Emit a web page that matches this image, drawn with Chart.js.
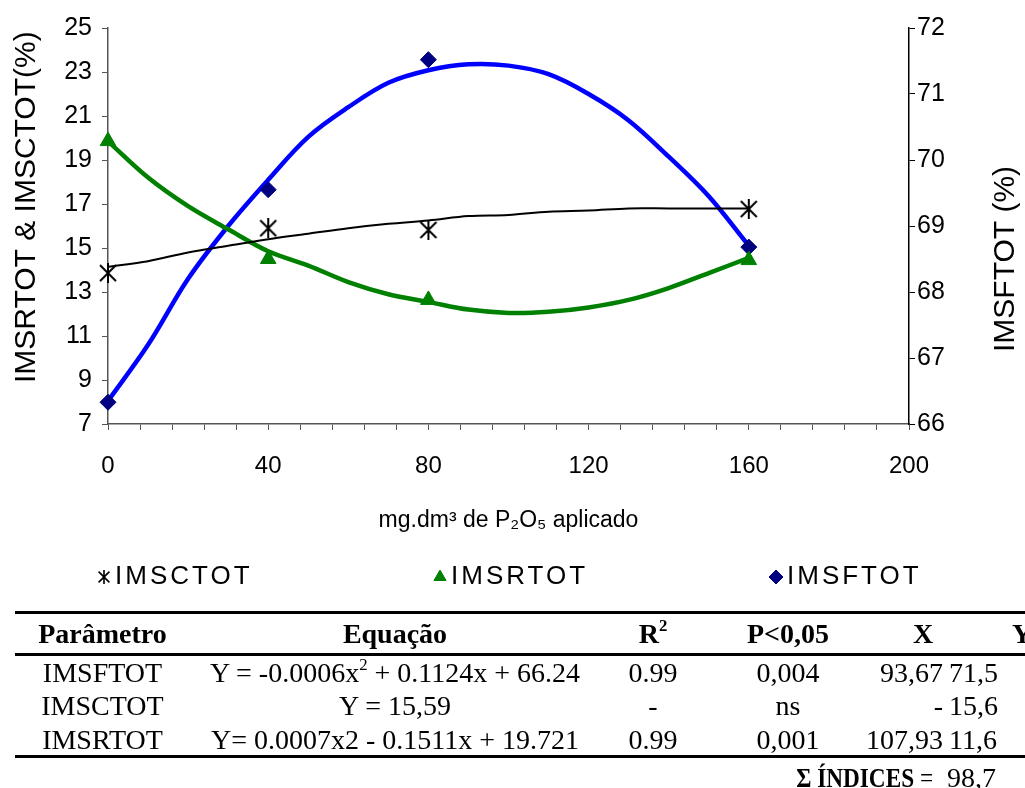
<!DOCTYPE html>
<html>
<head>
<meta charset="utf-8">
<script src="https://cdn.jsdelivr.net/npm/chart.js"></script>
<style>
  html, body { margin: 0; padding: 0; background: #fff; overflow: hidden; }
  body { width: 1025px; height: 788px; position: relative; }
  #wrap { position: absolute; left: 0; top: 0; width: 1025px; height: 600px; }
  #tab { position: absolute; left: 0; top: 0; width: 1025px; height: 788px; pointer-events: none;
         font-family: "Liberation Serif", "Times New Roman", serif; font-size: 28px; color: #000; }
  .rule { position: absolute; left: 15px; width: 1010px; height: 3px; background: #000; }
  .c { position: absolute; white-space: nowrap; line-height: 33px; height: 33px; }
  .b { font-weight: bold; }
  .narrow { transform: scaleX(0.83); transform-origin: right center; }
  sup { font-size: 60%; line-height: 0; position: relative; top: -0.1em; vertical-align: super; }
</style>
</head>
<body>
<div id="wrap"><canvas id="chart"></canvas></div>
<div id="tab"></div>
<script>
// observed points
const doses = [0, 40, 80, 160];
const imsctot = [13.86, 15.9, 15.82, 16.77];
const imsrtot = [19.86, 14.5, 12.64, 14.45];
const imsftot = [66.33, 69.55, 71.52, 68.68];

// fitted curves, every 10 units
const trendX = [0, 10, 20, 30, 40, 50, 60, 70, 80, 90, 100, 110, 120, 130, 140, 150, 160];
const trendCtot = [14.15, 14.4, 14.8, 15.1, 15.4, 15.65, 15.9, 16.1, 16.25, 16.45, 16.5, 16.65, 16.7, 16.8, 16.8, 16.8, 16.8];
const trendRtot = [19.85, 18.2, 16.9, 15.85, 14.85, 14.2, 13.45, 12.9, 12.55, 12.2, 12.05, 12.1, 12.3, 12.64, 13.18, 13.86, 14.55];
const trendFtot = [66.35, 67.2, 68.2, 69.0, 69.7, 70.35, 70.8, 71.17, 71.36, 71.45, 71.43, 71.3, 71.0, 70.6, 70.05, 69.45, 68.7];

const xLabels = [0, 40, 80, 120, 160, 200];
const leftTicks = [7, 9, 11, 13, 15, 17, 19, 21, 23, 25];
const rightTicks = [66, 67, 68, 69, 70, 71, 72];

const xTitle = "mg.dm³ de P₂O₅ aplicado";
const leftTitle = "IMSRTOT & IMSCTOT(%)";
const rightTitle = "IMSFTOT (%)";

// table
const tabHead = ["Parâmetro", "Equação", "R<sup>2</sup>", "P&lt;0,05", "X", "Y"];
const tabParam = ["IMSFTOT", "IMSCTOT", "IMSRTOT"];
const tabEq = ["Y = -0.0006x<sup>2</sup> + 0.1124x + 66.24", "Y = 15,59", "Y= 0.0007x2 - 0.1511x + 19.721"];
const tabR2 = ["0.99", "-", "0.99"];
const tabP = ["0,004", "ns", "0,001"];
const tabX = ["93,67", "-", "107,93"];
const tabY = ["71,5", "15,6", "11,6"];
const tabSum = "98,7";

const pts = (xs, ys) => xs.map((x, i) => ({ x: x, y: ys[i] }));

// excel-like star marker: an X with a vertical stroke
function starMarker(size, lw) {
  const c = document.createElement("canvas");
  c.width = size; c.height = size;
  const g = c.getContext("2d");
  const m = lw;
  g.strokeStyle = "#000";
  g.lineWidth = lw;
  g.beginPath();
  g.moveTo(m, m); g.lineTo(size - m, size - m);
  g.moveTo(size - m, m); g.lineTo(m, size - m);
  g.moveTo(size / 2, 0); g.lineTo(size / 2, size);
  g.stroke();
  return c;
}
const starBig = starMarker(20, 2);
const starSmall = starMarker(14, 1.6);

const tickFont = { family: "'Liberation Sans', Arial, sans-serif", size: 25 };

const extrasPlugin = {
  id: "extras",
  afterDraw(chart) {
    const ctx = chart.ctx;
    ctx.save();
    // y-axis titles, both reading upwards
    ctx.fillStyle = "#000";
    ctx.font = "30px 'Liberation Sans', Arial, sans-serif";
    ctx.textBaseline = "middle";
    ctx.textAlign = "left";
    [[leftTitle, 27, 383], [rightTitle, 1006, 352]].forEach(([t, x, y]) => {
      ctx.save();
      ctx.translate(x, y);
      ctx.rotate(-Math.PI / 2);
      ctx.fillText(t, 0, 0);
      ctx.restore();
    });
    // legend row
    const y = 577;
    [0, 1, 2].forEach((i, k) => {
      const ds = chart.data.datasets[i];
      const mx = 104 + k * 336;
      const style = i === 0 ? starSmall : ds.pointStyle;
      ctx.fillStyle = ds.pointBackgroundColor;
      ctx.strokeStyle = ds.pointBorderColor;
      ctx.lineWidth = 1;
      Chart.helpers.drawPoint(ctx, { pointStyle: style, radius: 7, rotation: 0, borderWidth: 1 }, mx, y);
      ctx.fillStyle = "#000";
      ctx.font = "26px 'Liberation Sans', Arial, sans-serif";
      ctx.letterSpacing = "3px";
      ctx.textBaseline = "middle";
      ctx.textAlign = "left";
      ctx.fillText(ds.label, mx + 11, y);
    });
    ctx.restore();
  }
};

new Chart(document.getElementById("chart"), {
  type: "scatter",
  data: {
    datasets: [
      { label: "IMSCTOT", data: pts(doses, imsctot), yAxisID: "y", order: 0, clip: false,
        pointStyle: starBig, pointRadius: 10,
        pointBorderColor: "#000", pointBackgroundColor: "#000", showLine: false },
      { label: "IMSRTOT", data: pts(doses, imsrtot), yAxisID: "y", order: 0, clip: false,
        pointStyle: "triangle", pointRadius: 9, pointBorderWidth: 1,
        pointBorderColor: "#008000", pointBackgroundColor: "#008000", showLine: false },
      { label: "IMSFTOT", data: pts(doses, imsftot), yAxisID: "y1", order: 0, clip: false,
        pointStyle: "rectRot", pointRadius: 8, pointBorderWidth: 1,
        pointBorderColor: "#000080", pointBackgroundColor: "#000080", showLine: false },
      { label: "trend IMSCTOT", type: "line", data: pts(trendX, trendCtot), yAxisID: "y", order: 1,
        borderColor: "#000", borderWidth: 2, pointRadius: 0, tension: 0.35, fill: false },
      { label: "trend IMSRTOT", type: "line", data: pts(trendX, trendRtot), yAxisID: "y", order: 1,
        borderColor: "#008000", borderWidth: 4.5, pointRadius: 0, tension: 0.35, fill: false },
      { label: "trend IMSFTOT", type: "line", data: pts(trendX, trendFtot), yAxisID: "y1", order: 1,
        borderColor: "#0000ff", borderWidth: 4.5, pointRadius: 0, tension: 0.35, fill: false }
    ]
  },
  options: {
    responsive: true,
    maintainAspectRatio: false,
    animation: false,
    layout: { padding: { top: 28, bottom: 66, left: 0, right: 0 } },
    plugins: { legend: { display: false }, tooltip: { enabled: false } },
    scales: {
      x: {
        type: "linear", min: 0, max: 200,
        ticks: { stepSize: 8, autoSkip: false, maxRotation: 0, padding: 22, color: "#000", font: { ...tickFont, size: 24 },
                 callback: (v) => (xLabels.includes(v) ? String(v) : "") },
        grid: { drawOnChartArea: false, tickLength: 6, color: "#555" },
        border: { color: "#555", width: 1.5 },
        title: { display: true, text: xTitle, color: "#000",
                 font: { family: "'Liberation Sans Narrow', 'Liberation Sans', Arial, sans-serif", size: 23 },
                 padding: { top: 0, bottom: 0 } },
        afterFit: (s) => { s.height = 110; }
      },
      y: {
        position: "left", min: 7, max: 25,
        afterBuildTicks: (s) => { s.ticks = leftTicks.map((v) => ({ value: v })); },
        ticks: { padding: 10, color: "#000", font: tickFont },
        grid: { drawOnChartArea: false, tickLength: 6, color: "#555" },
        border: { color: "#555", width: 1.5 },
        afterFit: (s) => { s.width = 108; }
      },
      y1: {
        position: "right", min: 66, max: 72,
        afterBuildTicks: (s) => { s.ticks = rightTicks.map((v) => ({ value: v })); },
        ticks: { padding: 2, color: "#000", font: tickFont },
        grid: { drawOnChartArea: false, tickLength: 6, color: "#000" },
        border: { color: "#000", width: 1.5 },
        afterFit: (s) => { s.width = 116; }
      }
    }
  },
  plugins: [extrasPlugin]
});

// table under the chart
const tab = document.getElementById("tab");
function rule(top) {
  const d = document.createElement("div");
  d.className = "rule";
  d.style.top = top + "px";
  tab.appendChild(d);
}
function cell(html, top, left, width, align, cls) {
  const d = document.createElement("div");
  d.className = "c" + (cls ? " " + cls : "");
  d.style.top = top + "px";
  d.style.left = left + "px";
  if (width) d.style.width = width + "px";
  d.style.textAlign = align;
  d.innerHTML = html;
  tab.appendChild(d);
}
rule(611); rule(653); rule(755);
const cols = [[15, 175], [195, 400], [603, 100], [703, 170]];
const headTop = 617;
cols.forEach((c, i) => cell(tabHead[i], headTop, c[0], c[1], "center", "b"));
cell(tabHead[4], headTop, 903, 40, "center", "b");
cell(tabHead[5], headTop, 1012, null, "left", "b");
const rowTops = [656, 689, 723];
rowTops.forEach((t, r) => {
  cell(tabParam[r], t, cols[0][0], cols[0][1], "center");
  cell(tabEq[r], t, cols[1][0], cols[1][1], "center");
  cell(tabR2[r], t, cols[2][0], cols[2][1], "center");
  cell(tabP[r], t, cols[3][0], cols[3][1], "center");
  cell(tabX[r], t, 843, 100, "right");
  cell(tabY[r], t, 949, null, "left");
});
cell('<b>&Sigma; &Iacute;NDICES</b> =', 761, 733, 200, "right", "narrow");
cell(tabSum, 761, 947, null, "left");
</script>
</body>
</html>
